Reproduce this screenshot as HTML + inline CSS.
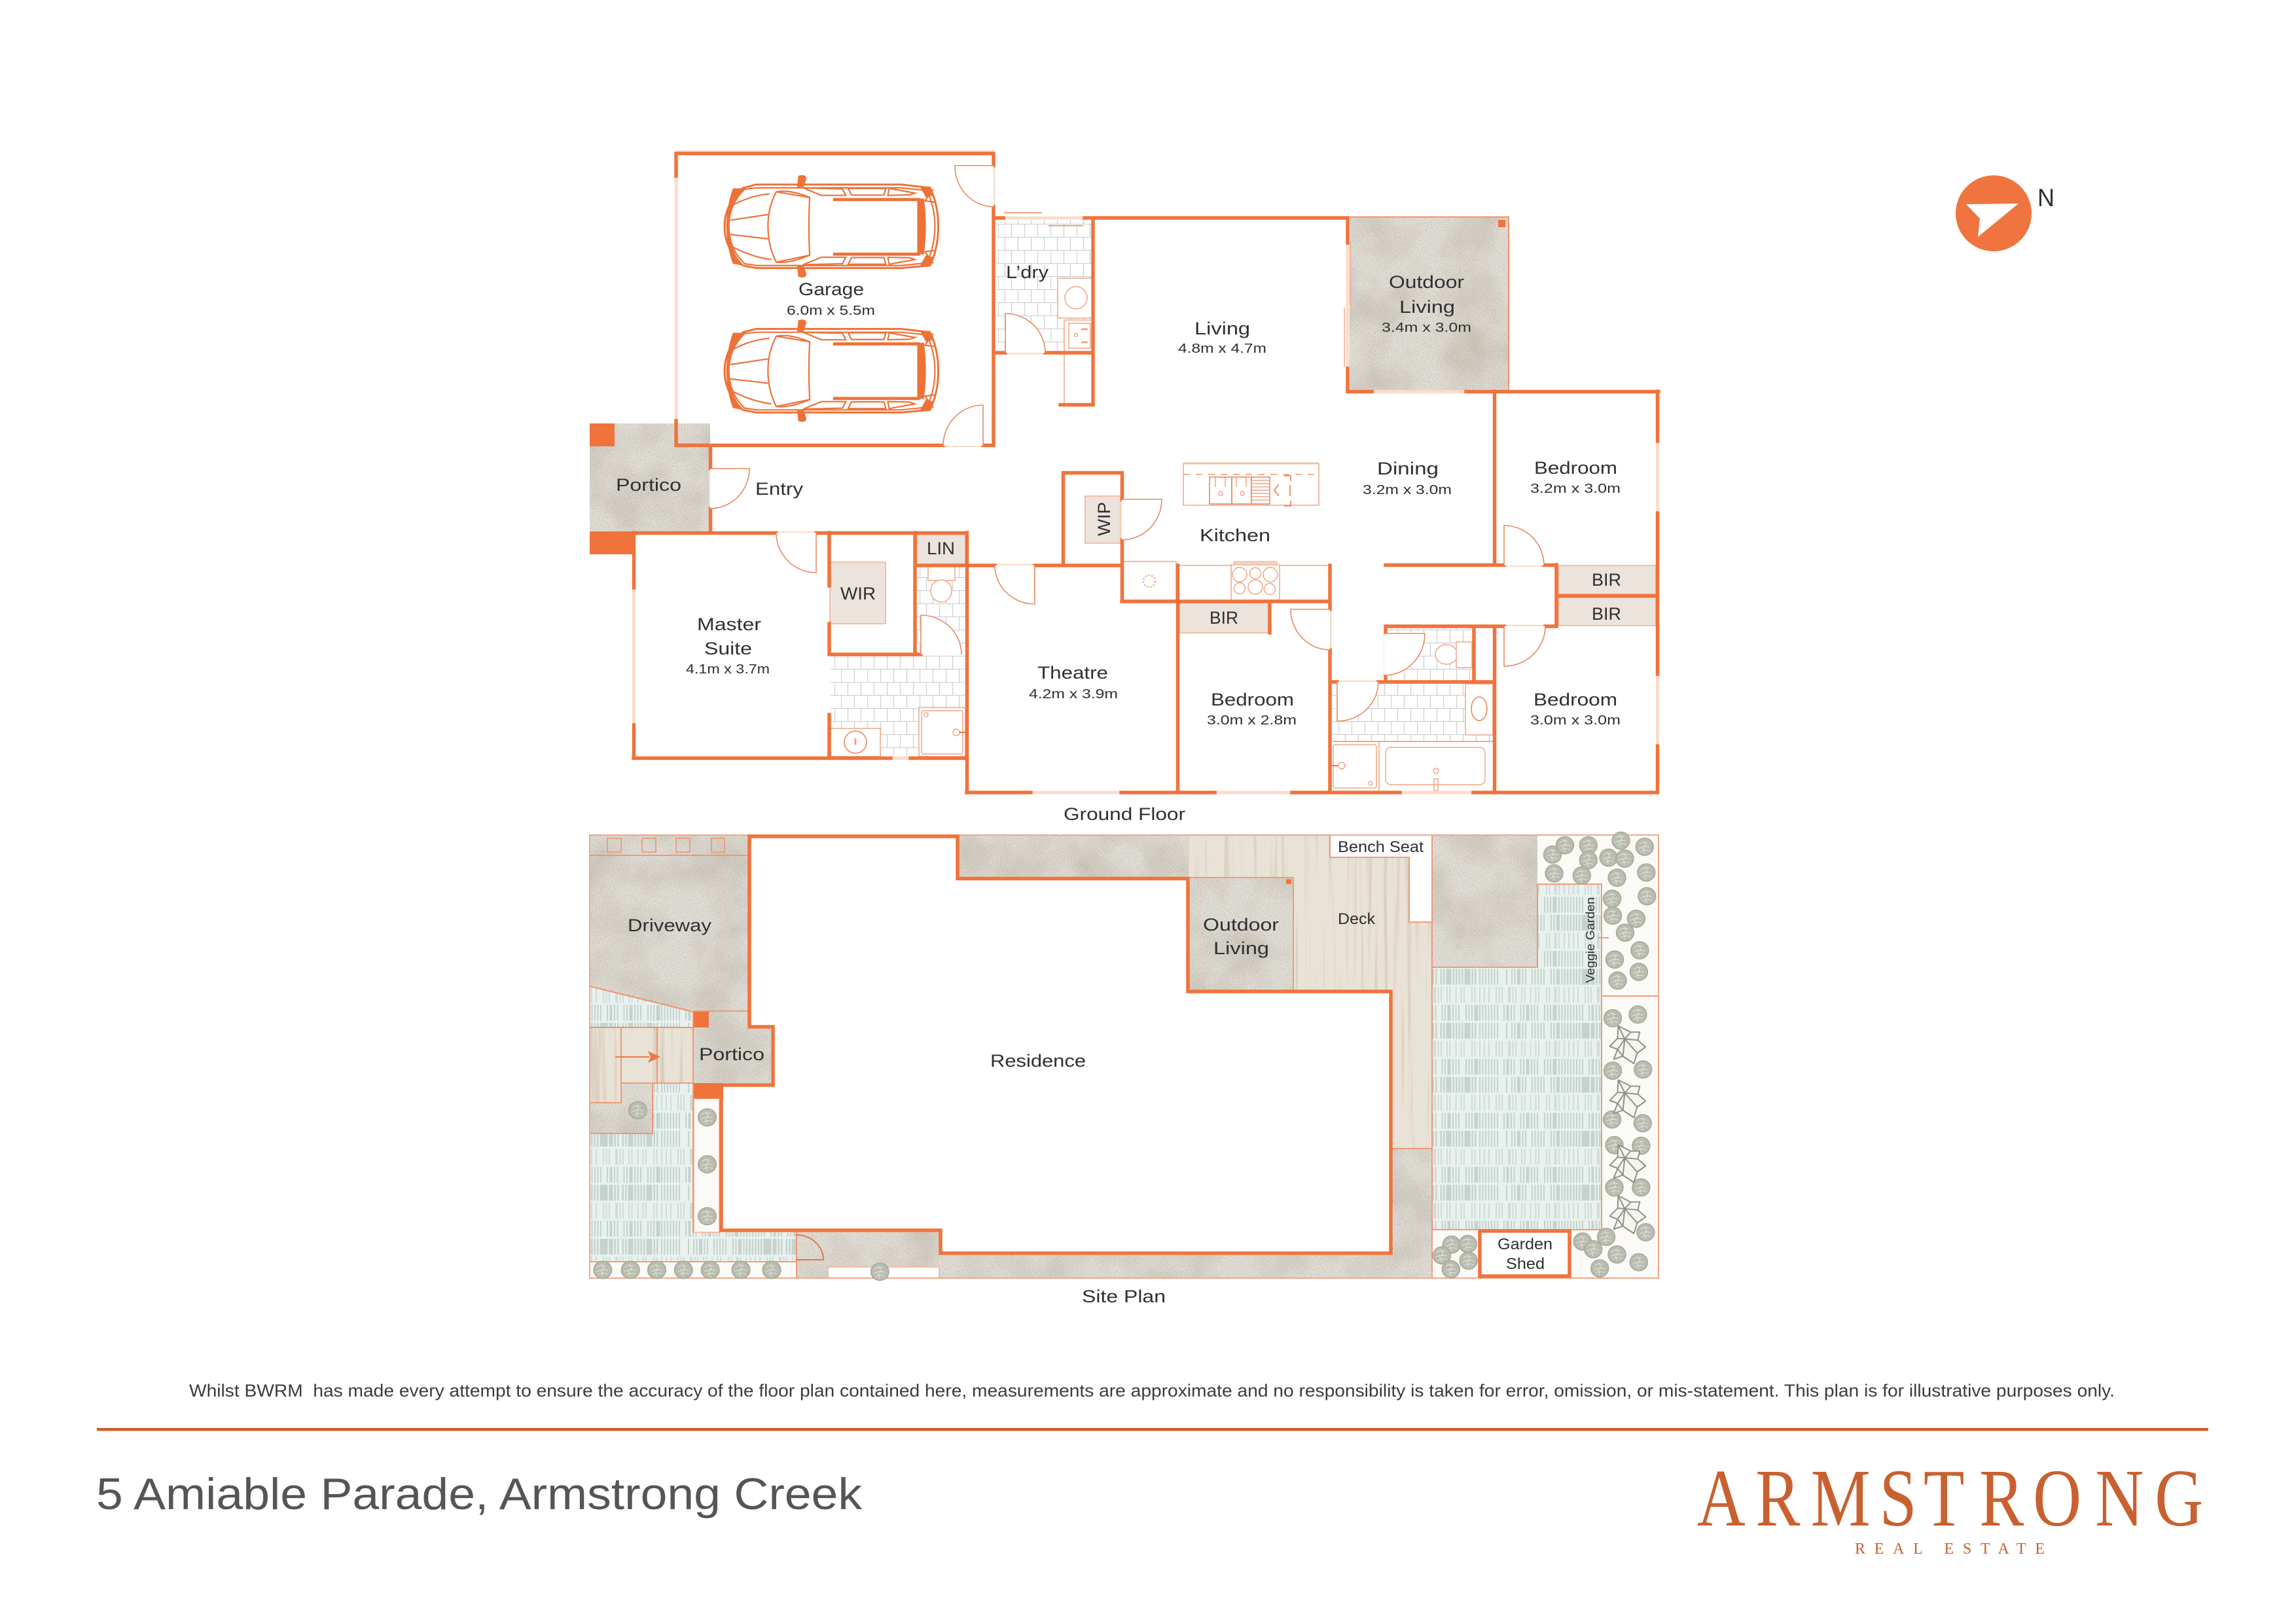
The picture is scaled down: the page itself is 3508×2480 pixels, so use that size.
<!DOCTYPE html>
<html lang="en">
<head>
<meta charset="utf-8">
<title>5 Amiable Parade, Armstrong Creek</title>
<style>
html,body{margin:0;padding:0;background:#fff}
svg{display:block}
text{font-family:"Liberation Sans",sans-serif;fill:#2f3033}
.l{font-size:27px}.d{font-size:20px}.s{font-size:24px}
.w{fill:none;stroke:#f0733c;stroke-width:5.5;stroke-linecap:square}
.p{fill:none;stroke:#fbdccc;stroke-width:5}
.f{fill:#fff;stroke:#f1a585;stroke-width:1.5}
.n{fill:none;stroke:#f1a585;stroke-width:1.5}
.door{fill:#fff;stroke:#e78a62;stroke-width:1.6}
.c{fill:#ebe3dc;stroke:#f3c0a8;stroke-width:2}
.e{fill:none;stroke:#f0926a;stroke-width:2}
.cv{vector-effect:non-scaling-stroke}
</style>
</head>
<body>
<svg xmlns="http://www.w3.org/2000/svg" width="3508" height="2480" viewBox="0 0 3508 2480">
<defs>
<filter id="con" x="0" y="0" width="100%" height="100%" color-interpolation-filters="sRGB">
<feTurbulence type="fractalNoise" baseFrequency=".75" numOctaves="2" seed="3" result="n"/>
<feColorMatrix in="n" type="matrix" values="0 0 0 0 .6 0 0 0 0 .58 0 0 0 0 .53 1.6 0 0 0 -.72" result="speck"/>
<feTurbulence type="fractalNoise" baseFrequency=".014" numOctaves="3" seed="8" result="m"/>
<feColorMatrix in="m" type="matrix" values="0 0 0 0 .79 0 0 0 0 .76 0 0 0 0 .71 1.5 0 0 0 -.55" result="blot"/>
<feMerge result="all"><feMergeNode in="SourceGraphic"/><feMergeNode in="blot"/><feMergeNode in="speck"/></feMerge>
<feComposite in="all" in2="SourceAlpha" operator="in"/>
</filter>
<filter id="wood" x="0" y="0" width="100%" height="100%" color-interpolation-filters="sRGB">
<feTurbulence type="fractalNoise" baseFrequency=".14 .004" numOctaves="2" seed="5" result="n"/>
<feColorMatrix in="n" type="matrix" values="0 0 0 0 .78 0 0 0 0 .72 0 0 0 0 .64 1.8 0 0 0 -.95" result="st"/>
<feMerge result="all"><feMergeNode in="SourceGraphic"/><feMergeNode in="st"/></feMerge>
<feComposite in="all" in2="SourceAlpha" operator="in"/>
</filter>
<pattern id="tile" width="40" height="40" patternUnits="userSpaceOnUse" x="5" y="2">
<path d="M0 .5H40M0 20.5H40M10.5 0V20M30.5 0V20M.5 20V40M20.5 20V40" fill="none" stroke="#cdd1d2" stroke-width="1.3"/>
</pattern>
<pattern id="grass" width="250" height="165" patternUnits="userSpaceOnUse" x="10" y="1288">
<g fill="none" stroke="#c6d3cd" stroke-width="24">
<path d="M0 12H250" stroke-dasharray="2 2.5 2 2.5 2 2.5 2 2.5 2 2.5 2 2.5 2 8 2 2.5 4 2.5 2 2.5 2 8 2 2.5 2 2.5 5 2.5 2 2.5 2 2.5 2 9 2 2.5 2 2.5 2 2.5 6 2.5 2 2.5 2 2.5"/>
<path d="M0 39.500H250" stroke-dasharray="2 2.500 2 2.500 2 2.500 2 2.500 2 2.500 2 2.500 2 12 2 6 2 2.500 2 2.500 5 2.500 2 2.500 2 8 2 2.500 2 2.500 2 2.500 2 2.500 2 9 2 2.500 2 2.500 5 2.500 2"/>
<path d="M0 67H250" stroke-dasharray="2 5 2 5 2 9 2 2.500 2 2.500 2 8 4 2.500 2 2.500 2 7 2 2.500 2 7 2 6 2 2.500 2 10 2 2.500 2 6 4 2.500 2 6 2 5" opacity=".7"/>
<path d="M0 94.500H250" stroke-dasharray="2 2.500 2 2.500 2 2.500 2 2.500 2 2.500 2 2.500 2 8 2 2.500 4 2.500 2 2.500 2 8 2 2.500 2 2.500 5 2.500 2 2.500 2 2.500 2 9 2 2.500 2 2.500 2 2.500 6 2.500 2 2.500 2 2.500"/>
<path d="M0 122H250" stroke-dasharray="2 2.500 2 2.500 2 2.500 2 2.500 2 2.500 2 2.500 2 12 2 6 2 2.500 2 2.500 5 2.500 2 2.500 2 8 2 2.500 2 2.500 2 2.500 2 2.500 2 9 2 2.500 2 2.500 5 2.500 2"/>
<path d="M0 149.500H250" stroke-dasharray="2 5 2 5 2 9 2 2.500 2 2.500 2 8 4 2.500 2 2.500 2 7 2 2.500 2 7 2 6 2 2.500 2 10 2 2.500 2 6 4 2.500 2 6 2 5" opacity=".7"/>
</g>
</pattern>
<g id="s">
<ellipse cx="0" cy="0" rx="27" ry="28" fill="#b9bcae" stroke="#a4a799" stroke-width="3"/>
<path d="M-16 -8Q-4 -20 10 -12M-18 6Q-4 -6 16 2M-12 16Q2 6 16 14M-4 -18Q6 -8 0 4M-8 2Q2 12 -2 22" fill="none" stroke="#e6e7df" stroke-width="2"/>
</g>
<g id="leaf" fill="#f6f5f0" stroke="#8f9186" stroke-width="4" stroke-linejoin="round">
<path d="M-28 -58L10 -38L38 -38L32 -12L56 10L30 30L20 64L-14 40L-42 50L-30 18L-54 8L-30 -18Z"/>
<path d="M-28 -58L-8 -16L10 -38M-8 -16L32 -12M-8 -16L-30 -18M-30 18L-8 -16L30 30M-8 -16L-14 40M-54 8L-30 18L-14 40L20 64M30 30L56 10" fill="none"/>
</g>
<g id="car" fill="none" stroke="#ee7238" stroke-width="2.200">
<path class="cv" d="M540 182L975 182L1060 195Q1085 260 1085 343Q1085 430 1060 495L975 505L540 505L500 495Q445 430 445 343Q445 260 500 195Z" stroke-width="3"/>
<path class="cv" d="M540 195L975 195L1050 205Q1075 270 1075 343Q1075 420 1050 485L975 495L540 495L505 488Q458 430 458 343Q458 260 505 200Z"/>
<path class="cv" d="M600 210L700 232Q695 343 700 455L600 482Q575 420 575 343Q575 270 600 210Z"/>
<path d="M470 197Q452 260 450 343Q452 430 470 488L500 495Q458 430 458 343Q458 260 505 197Z" fill="#ee7238" stroke="none"/>
<path d="M770 234H1030V246H770ZM770 445H1030V457H770Z" fill="#ee7238" stroke="none"/>
<path d="M1022 236H1042Q1054 343 1042 452H1022Z" fill="#ee7238" stroke="none"/>
<path d="M1030 190H1062L1068 225L1048 232ZM1030 497H1062L1068 462L1048 455Z" fill="#ee7238" stroke="none"/>
<path class="cv" d="M700 232Q640 200 600 210M700 455Q640 488 600 482"/>
<path class="cv" d="M465 265Q520 225 580 218M462 320L575 298M462 375L575 392M465 420Q520 460 585 472"/>
<path class="cv" d="M815 197H928L922 223H825ZM938 197L1015 215L1000 222L934 224ZM815 490H928L922 464H825ZM938 490L1015 472L1000 465L934 463Z"/>
<path class="cv" d="M680 195L798 199L808 224H735ZM680 492L798 488L808 463H735Z"/>
<path d="M666 148Q690 140 690 160L682 192H662ZM666 539Q690 547 690 527L682 495H662Z" fill="#ee7238" stroke="none"/>
<path class="cv" d="M1074 250L1045 245L1070 200M1074 437L1045 442L1070 487"/>
</g>
</defs>

<rect width="3508" height="2480" fill="#fff"/>

<!-- compass -->
<circle cx="3046" cy="326" r="58" fill="#f0743f"/>
<path d="M3004 312L3084 311L3022 362L3025 334Z" fill="#fff"/>
<text x="3113" y="315" font-size="38" textLength="26" lengthAdjust="spacingAndGlyphs">N</text>

<!-- ============ GROUND FLOOR ============ -->
<!-- floor surfaces -->
<rect x="901" y="647" width="184" height="166" fill="#e4e1da" filter="url(#con)"/>
<rect x="2062" y="331" width="243" height="265" fill="#e4e1da" stroke="none" filter="url(#con)"/>
<path d="M2062 331.500H2305V596" fill="none" stroke="#f0916a" stroke-width="2"/>
<rect x="2289" y="336" width="11" height="11" fill="#f0733c"/>
<rect x="901" y="647" width="38" height="35" fill="#f0733c"/>
<rect x="901" y="812" width="68" height="35" fill="#f0733c"/>

<!-- tiles -->
<rect x="1523" y="336" width="146" height="201" fill="url(#tile)"/>
<rect x="1400" y="866" width="75" height="134" fill="url(#tile)"/>
<rect x="1269" y="1002" width="206" height="155" fill="url(#tile)"/>
<rect x="2120" y="959" width="130" height="81" fill="url(#tile)"/>
<rect x="2036" y="1045" width="245" height="88" fill="url(#tile)"/>

<!-- closets -->
<rect x="1658" y="758" width="54" height="72" class="c"/>
<rect x="1401" y="814" width="74" height="48" class="c"/>
<rect x="1268" y="859" width="85" height="94" class="c"/>
<rect x="1802" y="921" width="136" height="46" class="c"/>
<rect x="2381" y="864" width="149" height="44" class="c"/>
<rect x="2381" y="913" width="149" height="43" class="c"/>

<!-- fixtures -->
<rect x="1616" y="425" width="54" height="61" class="f"/>
<ellipse cx="1644" cy="455" rx="17" ry="17" class="n"/>
<rect x="1626" y="489" width="44" height="49" class="f"/>
<rect x="1633" y="494" width="33" height="38" class="n"/>
<circle cx="1644" cy="512" r="2.500" class="n"/><path d="M1652 503h10M1652 523h10" stroke="#f1a585" stroke-width="3" fill="none"/>
<path d="M1626 541V618M1536 539H1597" class="n"/>
<rect x="1418" y="866" width="41" height="21" class="f"/>
<ellipse cx="1438" cy="903" rx="16" ry="17" class="f"/>
<rect x="1269" y="1113" width="76" height="43" class="f"/>
<circle cx="1307" cy="1134" r="17" fill="#fff" stroke="#ea8055" stroke-width="1.500"/>
<path d="M1307 1128v10" stroke="#f1a585" stroke-width="3"/>
<rect x="1404" y="1081" width="71" height="75" class="f"/>
<rect x="1408" y="1086" width="63" height="66" rx="3" class="n"/>
<circle cx="1461" cy="1119" r="5" class="n"/><circle cx="1415" cy="1092" r="3" class="n"/>
<path d="M1466 1119h9" stroke="#f0733c" stroke-width="2"/>

<!-- kitchen -->
<rect x="1716" y="858" width="81" height="59" class="f"/>
<circle cx="1756" cy="888" r="9" fill="none" stroke="#f3bba3" stroke-width="2.500" stroke-dasharray="3 2"/>
<path d="M1802 864H2030" class="n"/>
<rect x="1881" y="863" width="74" height="54" class="f"/>
<rect x="1885" y="858" width="66" height="5" fill="#f5d5c5" stroke="#f1a585"/>
<circle cx="1894" cy="878" r="11" class="n"/><circle cx="1918" cy="876" r="8.500" class="n"/><circle cx="1941" cy="878" r="11" class="n"/>
<circle cx="1894" cy="899" r="8.500" class="n"/><circle cx="1918" cy="897" r="11" class="n"/><circle cx="1940" cy="900" r="8.500" class="n"/>
<rect x="1808" y="708" width="207" height="64" class="n"/>
<path d="M1808 708H2015" stroke="#eec0a9" stroke-width="3"/>
<path d="M1808 725H2015" stroke="#f0926a" stroke-width="1.500" stroke-dasharray="10 9" fill="none"/>
<rect x="1848" y="729" width="92" height="41" fill="#fff" stroke="#ea8055" stroke-width="1.500"/>
<path d="M1882 729V770M1912 729V770" class="e" stroke-width="1.500"/>
<path d="M1912 734H1940M1912 739H1940M1912 744H1940M1912 749H1940M1912 754H1940M1912 759H1940M1912 764H1940" class="n"/>
<circle cx="1865" cy="754" r="3" class="n"/><circle cx="1898" cy="754" r="3" class="n"/>
<path d="M1857 730v14M1872 730v14M1889 730v14M1904 730v14" class="n"/>
<path d="M1954 740L1947 749L1954 758M1971 741V758M1962 727H1972V735M1962 773H1972V765" class="e"/>

<!-- bath fixtures -->
<ellipse cx="2210" cy="1000" rx="17" ry="15" class="f"/>
<rect x="2225" y="981" width="24" height="39" class="f"/>
<path d="M2252 1042V959" class="n"/>
<rect x="2239" y="1045" width="42" height="78" class="f"/>
<ellipse cx="2260" cy="1083" rx="12" ry="18" fill="#fff" stroke="#ea8055" stroke-width="1.500"/>
<path d="M2036 1133H2281" stroke="#ec8f68" stroke-width="1.500"/>
<rect x="2036" y="1134" width="245" height="74" fill="#fff"/>
<rect x="2037" y="1138" width="66" height="66" rx="3" class="n"/>
<path d="M2107 1133V1208" class="n"/>
<rect x="2117" y="1142" width="152" height="57" rx="8" class="n"/>
<circle cx="2194" cy="1178" r="4" class="n"/><rect x="2191" y="1190" width="6" height="18" class="n"/>
<circle cx="2050" cy="1170" r="5" class="n"/><path d="M2035 1170h10" stroke="#f0733c" stroke-width="2"/>
<circle cx="2094" cy="1197" r="3" class="n"/>

<!-- pale openings -->
<g class="p">
<path d="M1033 269V643"/>
<path d="M1518 253V316"/>
<path d="M1441 680.500H1502"/>
<path d="M1533 333H1657"/>
<path d="M1536 539H1597"/>
<path d="M1085.500 716V777"/>
<path d="M1186 814.500H1247"/>
<path d="M968.500 898V1108"/>
<path d="M1361 1158.500H1391"/>
<path d="M1520 864H1581"/>
<path d="M1575 1211H1713"/>
<path d="M1856 1211H1974"/>
<path d="M2139 1211H2251"/>
<path d="M1714.500 763V825"/>
<path d="M2059 371V563"/>
<path d="M2096 598.500H2240"/>
<path d="M2532.500 674V784"/>
<path d="M2532.500 1030V1140"/>
<path d="M2298 863.500H2359"/>
<path d="M2298 957H2361"/>
<path d="M2032 931V993"/>
<path d="M2043 1042H2106"/>
<path d="M2117 968V1032"/>
</g>
<path d="M2054 470V561M2063 371V466" class="n"/>

<!-- walls -->
<path class="w" d="M1033 234.500H1518M1518 234.500V253M1518 316V680.500M1033 680.500H1441M1502 680.500H1518M1033 234.500V269M1033 643V680.500
M1085.500 682V716M1085.500 777V813
M968 814.500H1186M1247 814.500H1477M968.500 814V898M968.500 1108V1158.500M968 1158.500H1361M1391 1158.500H1477
M1267 814V895M1267 953V1000M1267 1092V1158M1267 1000H1407M1398 814V1000
M1398 864H1520M1581 864H1714M1477.500 814V1211M1477 1211H1575M1713 1211H1856M1974 1211H2139M2251 1211H2532
M1799.500 864V1211M1624.500 722.500H1714.500M1624.500 722.500V864M1714.500 722.500V763M1714.500 825V919M1714 919H2032
M2032 864V931M2032 993V1211M1940 919V967
M2117 863.500H2298M2359 863.500H2378M2283.500 598V863.500M2283.500 957V1211M2378 863V957M2378 910.500H2532
M2117 957H2298M2361 957H2378M2117 957V968M2117 1032V1042M2252 957V1042M2033 1042H2043M2106 1042H2283
M2532.500 598V674M2532.500 784V1030M2532.500 1140V1211M2059 598.500H2096M2240 598.500H2534
M1658 333H2059M2059 333V371M2059 563V598
M1521 333H1533M1657 333H1670M1670 333V618.500M1620 618.500H1670M1518 539H1536M1597 539H1670"/>
<path d="M1033 231H1520" stroke="#f9cdb7" stroke-width="2"/>
<path d="M1534 325H1592M1602 345H1655" stroke="#ee8a60" stroke-width="1.500"/>

<!-- doors -->
<path class="door" d="M1518 253L1459 253A60 62 0 0 0 1518 316"/>
<path class="door" d="M1502 681L1502 619A61 62 0 0 0 1441 681"/>
<path class="door" d="M1536 539L1536 479A61 60 0 0 1 1597 539"/>
<path class="door" d="M1085 716L1145 716A60 61 0 0 1 1085 777"/>
<path class="door" d="M1247 814L1247 875A61 61 0 0 1 1186 814"/>
<path class="door" d="M1581 864L1581 923A61 59 0 0 1 1520 864"/>
<path class="door" d="M1714 763L1775 763A61 62 0 0 1 1714 825"/>
<path class="door" d="M2298 864L2298 803A61 61 0 0 1 2359 864"/>
<path class="door" d="M2298 957L2298 1018A63 61 0 0 0 2361 957"/>
<path class="door" d="M2032 931L1972 931A60 62 0 0 0 2032 993"/>
<path class="door" d="M2043 1042L2043 1102A63 60 0 0 0 2106 1042"/>
<path class="door" d="M2115 968L2177 968A62 64 0 0 1 2115 1032"/>
<path class="door" d="M1407 1000L1407 940A62 60 0 0 1 1469 1000"/>

<!-- cars -->
<use href="#car" transform="translate(880,210) scale(.5102,.3954)"/>
<use href="#car" transform="translate(880,430.600) scale(.5102,.3954)"/>

<!-- labels -->
<text class="l" x="1220" y="451" textLength="100" lengthAdjust="spacingAndGlyphs">Garage</text>
<text class="d" x="1202" y="481" textLength="135" lengthAdjust="spacingAndGlyphs">6.0m x 5.5m</text>
<text class="l" x="1537" y="425" textLength="65" lengthAdjust="spacingAndGlyphs">L’dry</text>
<text class="l" x="941" y="750" textLength="100" lengthAdjust="spacingAndGlyphs">Portico</text>
<text class="l" x="1154" y="756" textLength="73" lengthAdjust="spacingAndGlyphs">Entry</text>
<text class="l" x="1825" y="511" textLength="85" lengthAdjust="spacingAndGlyphs">Living</text>
<text class="d" x="1800" y="539" textLength="135" lengthAdjust="spacingAndGlyphs">4.8m x 4.7m</text>
<text class="l" x="2122" y="440" textLength="115" lengthAdjust="spacingAndGlyphs">Outdoor</text>
<text class="l" x="2138" y="478" textLength="85" lengthAdjust="spacingAndGlyphs">Living</text>
<text class="d" x="2111" y="507" textLength="137" lengthAdjust="spacingAndGlyphs">3.4m x 3.0m</text>
<text class="l" x="2104" y="725" textLength="94" lengthAdjust="spacingAndGlyphs">Dining</text>
<text class="d" x="2082" y="755" textLength="136" lengthAdjust="spacingAndGlyphs">3.2m x 3.0m</text>
<text class="l" x="2344" y="724" textLength="127" lengthAdjust="spacingAndGlyphs">Bedroom</text>
<text class="d" x="2338" y="753" textLength="138" lengthAdjust="spacingAndGlyphs">3.2m x 3.0m</text>
<text class="l" x="1833" y="827" textLength="108" lengthAdjust="spacingAndGlyphs">Kitchen</text>
<text class="l" x="2432" y="895" textLength="45" lengthAdjust="spacingAndGlyphs">BIR</text>
<text class="l" x="2432" y="947" textLength="45" lengthAdjust="spacingAndGlyphs">BIR</text>
<text class="l" x="1848" y="953" textLength="44" lengthAdjust="spacingAndGlyphs">BIR</text>
<text class="l" transform="translate(1696,819) rotate(-90)" textLength="52" lengthAdjust="spacingAndGlyphs">WIP</text>
<text class="l" x="1416" y="847" textLength="43" lengthAdjust="spacingAndGlyphs">LIN</text>
<text class="l" x="1284" y="916" textLength="54" lengthAdjust="spacingAndGlyphs">WIR</text>
<text class="l" x="1065" y="963" textLength="98" lengthAdjust="spacingAndGlyphs">Master</text>
<text class="l" x="1076" y="1000" textLength="73" lengthAdjust="spacingAndGlyphs">Suite</text>
<text class="d" x="1048" y="1029" textLength="128" lengthAdjust="spacingAndGlyphs">4.1m x 3.7m</text>
<text class="l" x="1585" y="1037" textLength="108" lengthAdjust="spacingAndGlyphs">Theatre</text>
<text class="d" x="1572" y="1067" textLength="136" lengthAdjust="spacingAndGlyphs">4.2m x 3.9m</text>
<text class="l" x="1850" y="1078" textLength="127" lengthAdjust="spacingAndGlyphs">Bedroom</text>
<text class="d" x="1844" y="1107" textLength="137" lengthAdjust="spacingAndGlyphs">3.0m x 2.8m</text>
<text class="l" x="2343" y="1078" textLength="128" lengthAdjust="spacingAndGlyphs">Bedroom</text>
<text class="d" x="2338" y="1107" textLength="138" lengthAdjust="spacingAndGlyphs">3.0m x 3.0m</text>
<text class="l" x="1625" y="1253" textLength="186" lengthAdjust="spacingAndGlyphs">Ground Floor</text>

<!-- ============ SITE PLAN ============ -->
<!-- concrete areas -->
<rect x="901" y="1276" width="243" height="31" fill="#e4e1da" filter="url(#con)"/>
<polygon points="901,1307 1144,1307 1144,1545 1059,1545 901,1507" fill="#e4e1da" filter="url(#con)"/>
<rect x="1060" y="1546" width="118" height="109" fill="#e4e1da" filter="url(#con)"/>
<rect x="1465" y="1276" width="351" height="65" fill="#e4e1da" filter="url(#con)"/>
<rect x="1217" y="1883" width="219" height="70" fill="#e4e1da" filter="url(#con)"/>
<rect x="1436" y="1918" width="751" height="35" fill="#e4e1da" filter="url(#con)"/>
<rect x="2127" y="1755" width="60" height="165" fill="#e4e1da" filter="url(#con)"/>
<rect x="2188" y="1276" width="161" height="202" fill="#e4e1da" filter="url(#con)"/>
<rect x="1816" y="1342" width="159" height="172" fill="#e4e1da" filter="url(#con)"/>

<!-- grass -->
<polygon points="901,1507 1059,1546 1059,1883 1217,1883 1217,1928 901,1928" fill="#e8f1ee"/>
<polygon points="901,1507 1059,1546 1059,1883 1217,1883 1217,1928 901,1928" fill="url(#grass)"/>
<polygon points="2188,1478 2349,1478 2349,1351 2447,1351 2447,1879 2188,1879" fill="#e8f1ee"/>
<polygon points="2188,1478 2349,1478 2349,1351 2447,1351 2447,1879 2188,1879" fill="url(#grass)"/>

<!-- lower-left paving + decking -->
<rect x="901" y="1655" width="96" height="77" fill="#e4e1da" filter="url(#con)"/>
<rect x="901" y="1570" width="159" height="85" fill="#e9e2d6" filter="url(#wood)"/>
<rect x="901" y="1655" width="48" height="30" fill="#e9e2d6" filter="url(#wood)"/>
<path d="M901 1570H1060M949 1570V1685H901M1004 1570V1655M949 1655H1060M901 1732H997V1655" fill="none" stroke="#f0916a" stroke-width="1.800"/>
<path d="M940 1615H992" stroke="#ec7a49" stroke-width="2"/>
<path d="M990 1606L1009 1615L990 1624L994 1615Z" fill="#ec7a49"/>

<!-- main deck -->
<polygon points="1816,1276 2032,1276 2032,1310 2153,1310 2153,1409 2187,1409 2187,1755 2127,1755 2127,1515 1976,1515 1976,1341 1816,1341" fill="#e9e2d6" filter="url(#wood)"/>
<path d="M2032 1276V1310H2153V1409H2187" fill="none" stroke="#f0916a" stroke-width="1.800"/>
<path d="M2127 1755H2187M1976 1341V1515M1816 1341H1976" fill="none" stroke="#f0916a" stroke-width="1.800"/>
<rect x="1965" y="1343.500" width="8" height="7" fill="#f0733c"/>

<!-- white beds -->
<rect x="1060" y="1678" width="39" height="205" fill="#fbfaf7" stroke="#f3b196" stroke-width="1.500"/>
<rect x="901" y="1928" width="316" height="25" fill="#fbfaf7"/>
<rect x="1265" y="1936" width="170" height="17" fill="#fff" stroke="#f3b196" stroke-width="1.500"/>
<rect x="2349" y="1276" width="185" height="75" fill="#fbfaf7"/>
<rect x="2447" y="1351" width="87" height="602" fill="#fbfaf7"/>
<rect x="2188" y="1879" width="346" height="74" fill="#fbfaf7"/>

<!-- thin frame lines -->
<path d="M901 1307H1143M1059 1545H1143M1059 1546V1883M901 1570H1060M901 1928H1217M1217 1883V1953" fill="none" stroke="#f0916a" stroke-width="1.800"/>
<path d="M901 1507L1059 1546" stroke="#f0916a" stroke-width="2"/>
<path d="M2188 1276V1953M2188 1478H2349V1351H2447V1879H2188M2447 1522H2534M2447 1879V1522M2442 1433H2458" fill="none" stroke="#f0916a" stroke-width="1.800"/>
<rect x="901" y="1276" width="1633" height="677" fill="none" stroke="#f0a88a" stroke-width="2"/>
<path d="M928 1281h21v21h-21zM981 1281h21v21h-21zM1033 1281h21v21h-21zM1087 1281h20v21h-20z" fill="none" stroke="#ee9a78" stroke-width="1.800"/>
<path d="M1217 1925L1258 1925A41 38 0 0 0 1217 1887" fill="none" stroke="#e8693a" stroke-width="1.800"/>

<!-- residence outline -->
<path d="M1145 1278V1569H1181V1658H1102V1880H1437V1915H2125V1515H1815V1342.500H1463V1278Z" fill="#fff" stroke="#f0733c" stroke-width="5.500"/>
<rect x="1060" y="1546" width="23" height="24" fill="#f0733c"/>
<rect x="1060" y="1655" width="45" height="24" fill="#f0733c"/>

<!-- shed -->
<rect x="2261" y="1881" width="137" height="69" fill="#fff" stroke="#f0733c" stroke-width="5.500"/>

<!-- shrubs -->
<g transform="translate(880,1260) scale(.5102,.4719)">
<use href="#s" x="393" y="948"/><use href="#s" x="393" y="1100"/><use href="#s" x="393" y="1268"/>
<use href="#s" x="80" y="1442"/><use href="#s" x="163" y="1442"/><use href="#s" x="242" y="1442"/><use href="#s" x="322" y="1442"/><use href="#s" x="402" y="1442"/><use href="#s" x="494" y="1442"/><use href="#s" x="586" y="1442"/>
<use href="#s" x="910" y="1448"/><use href="#s" x="185" y="925"/>
</g>
<g transform="translate(1780,1260) scale(.4975,.4719)">
<use href="#s" x="1190" y="97"/><use href="#s" x="1228" y="67"/><use href="#s" x="1300" y="67"/><use href="#s" x="1300" y="115"/><use href="#s" x="1362" y="107"/><use href="#s" x="1412" y="110"/><use href="#s" x="1400" y="52"/><use href="#s" x="1473" y="72"/><use href="#s" x="1195" y="158"/><use href="#s" x="1280" y="165"/><use href="#s" x="1388" y="172"/><use href="#s" x="1478" y="155"/><use href="#s" x="1373" y="240"/><use href="#s" x="1480" y="232"/><use href="#s" x="1375" y="295"/><use href="#s" x="1447" y="305"/><use href="#s" x="1413" y="350"/><use href="#s" x="1458" y="407"/><use href="#s" x="1381" y="437"/><use href="#s" x="1455" y="477"/><use href="#s" x="1390" y="505"/>
<use href="#s" x="1375" y="627"/><use href="#s" x="1452" y="615"/><use href="#s" x="1375" y="797"/><use href="#s" x="1468" y="793"/><use href="#s" x="1373" y="955"/><use href="#s" x="1467" y="967"/><use href="#s" x="1380" y="1038"/><use href="#s" x="1462" y="1040"/><use href="#s" x="1380" y="1175"/><use href="#s" x="1462" y="1175"/><use href="#s" x="1476" y="1320"/>
<use href="#s" x="880" y="1360"/><use href="#s" x="930" y="1358"/><use href="#s" x="850" y="1395"/><use href="#s" x="932" y="1412"/><use href="#s" x="878" y="1440"/>
<use href="#s" x="1282" y="1350"/><use href="#s" x="1315" y="1375"/><use href="#s" x="1355" y="1335"/><use href="#s" x="1388" y="1392"/><use href="#s" x="1335" y="1437"/><use href="#s" x="1455" y="1417"/>
<use href="#leaf" x="1420" y="710"/><use href="#leaf" x="1420" y="885"/><use href="#leaf" x="1420" y="1095"/><use href="#leaf" x="1420" y="1260"/>
</g>

<!-- site labels -->
<text class="l" x="959" y="1423" textLength="128" lengthAdjust="spacingAndGlyphs">Driveway</text>
<text class="l" x="1068" y="1620" textLength="100" lengthAdjust="spacingAndGlyphs">Portico</text>
<text class="l" x="1513" y="1630" textLength="146" lengthAdjust="spacingAndGlyphs">Residence</text>
<text class="l" x="1838" y="1422" textLength="116" lengthAdjust="spacingAndGlyphs">Outdoor</text>
<text class="l" x="1854" y="1458" textLength="85" lengthAdjust="spacingAndGlyphs">Living</text>
<text class="s" x="2044" y="1412" textLength="57" lengthAdjust="spacingAndGlyphs">Deck</text>
<text class="s" x="2044" y="1302" textLength="131" lengthAdjust="spacingAndGlyphs">Bench Seat</text>
<text class="s" x="2288" y="1909" textLength="84" lengthAdjust="spacingAndGlyphs">Garden</text>
<text class="s" x="2301" y="1939" textLength="59" lengthAdjust="spacingAndGlyphs">Shed</text>
<text font-size="18" transform="translate(2436,1502) rotate(-90)" textLength="131" lengthAdjust="spacingAndGlyphs">Veggie Garden</text>
<text class="l" x="1653" y="1990" textLength="128" lengthAdjust="spacingAndGlyphs">Site Plan</text>

<!-- ============ FOOTER ============ -->
<text x="289" y="2134" font-size="27" xml:space="preserve" textLength="2942" lengthAdjust="spacingAndGlyphs" style="fill:#3c3c3c">Whilst BWRM  has made every attempt to ensure the accuracy of the floor plan contained here, measurements are approximate and no responsibility is taken for error, omission, or mis-statement. This plan is for illustrative purposes only.</text>
<rect x="148" y="2182" width="3226" height="4.500" fill="#c96030"/>
<text x="147" y="2306" font-size="68" textLength="1170" lengthAdjust="spacingAndGlyphs" style="fill:#555">5 Amiable Parade, Armstrong Creek</text>
<text transform="translate(0,2331) scale(.82,1)" y="0" x="3162 3271 3374 3502 3584 3688 3788 3904 4015" font-size="125" style="font-family:'Liberation Serif',serif;fill:#c96030">ARMSTRONG</text>
<text x="2834" y="2374" font-size="24" textLength="290" lengthAdjust="spacing" style="font-family:'Liberation Serif',serif;fill:#c96030">REAL ESTATE</text>
</svg>
</body>
</html>
